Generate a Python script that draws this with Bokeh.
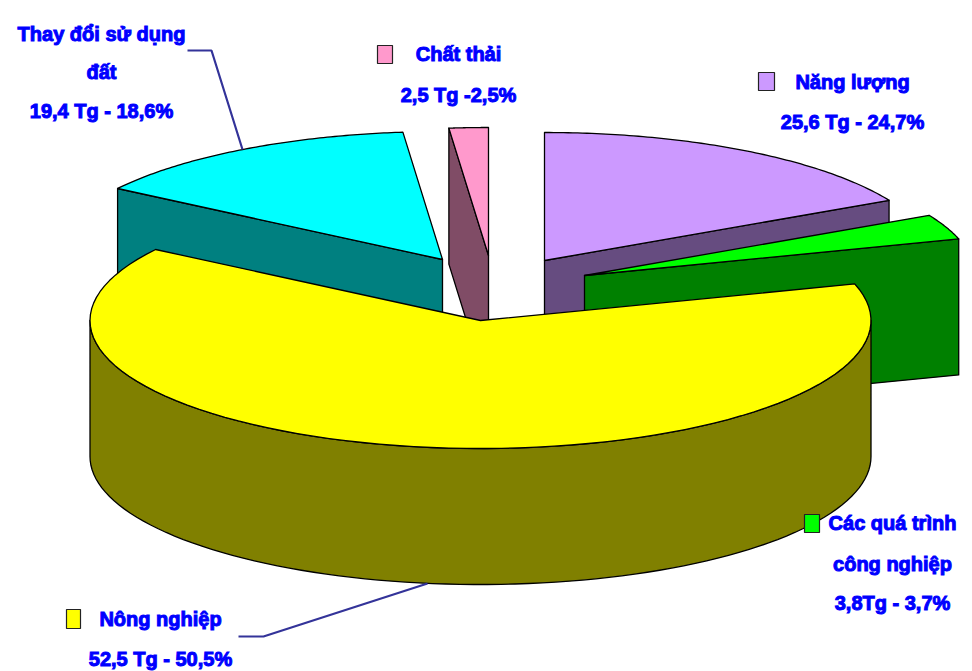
import numpy as np
from bokeh.plotting import figure
from bokeh.models import Range1d
from bokeh.core.properties import value
from bokeh.embed import file_html
from bokeh.resources import INLINE

# ---- data ----
categories = ["Năng lượng", "Các quá trình công nghiệp", "Nông nghiệp", "Thay đổi sử dụng đất", "Chất thải"]
values_tg = [25.6, 3.8, 52.5, 19.4, 2.5]
label_lines = [
    ["Năng lượng", "25,6 Tg - 24,7%"],
    ["Các quá trình", "công nghiệp", "3,8Tg - 3,7%"],
    ["Nông nghiệp", "52,5 Tg - 50,5%"],
    ["Thay đổi sử dụng", "đất", "19,4 Tg - 18,6%"],
    ["Chất thải", "2,5 Tg -2,5%"],
]

# ---- styles and layout (page pixels) ----
top_colors = ["#CC99FF", "#00FF00", "#FFFF00", "#00FFFF", "#FF99CC"]
wall_colors = ["#664C80", "#008000", "#808000", "#008080", "#804C66"]
apex_x = [544, 584, 480, 442, 488]
apex_y = [260, 275, 320, 259, 255]
draw_order = [3, 4, 0, 1, 2]
label_x = [852, 892, 160, 101, 458]
label_y = [[81, 121], [522, 563, 602], [618, 658], [33, 71, 110], [53, 94]]
key_box = {0: (758, 72, 774, 90), 1: (804, 514, 819, 532), 2: (66, 609, 80, 628), 4: (377, 45, 392, 63)}
leaders = [([187, 211, 242], [50, 50, 149]), ([238, 263, 427], [636, 636, 583])]
RX, RY, DEPTH = 390.5, 128.0, 136.0
PERSPECTIVE, SKEW, TILT = 1.65, 6.0, -3.5
W, H = 964, 671
INK = "#0000FF"
FONT = "Liberation Sans"


def screen_angle(theta):
    """Pie angle (deg, clockwise from the back) to angle on the projected ellipse."""
    t = np.radians(theta - 180.0)
    phi = 2 * np.degrees(np.arctan(PERSPECTIVE * np.tan(t / 2))) + 180.0
    r = np.radians(theta)
    return phi - SKEW * (1 - np.cos(r)) / 2 - TILT * np.sin(r)


def rim(i, a, b, n=90):
    ang = np.radians(np.linspace(a, b, n))
    return apex_x[i] + RX * np.sin(ang), apex_y[i] - RY * np.cos(ang)


p = figure(width=W, height=H, output_backend="svg", toolbar_location=None,
           x_range=Range1d(0, W), y_range=Range1d(H, 0),
           min_border=0, outline_line_color=None, background_fill_color="white")
p.axis.visible = False
p.grid.visible = False

edges = np.concatenate([[0.0], np.cumsum(values_tg)]) / sum(values_tg) * 360.0
LINE = dict(line_color="black", line_width=1.3, line_join="round")

for i in draw_order:
    a, b = screen_angle(edges[i]), screen_angle(edges[i + 1])
    if edges[i] == 0:
        a = 0.0
    if edges[i + 1] >= 360:
        b = 360.0
    xr, yr = rim(i, a, b)
    # radial walls that face the viewer
    for ang, end_x, end_y, show in ((a, xr[0], yr[0], np.sin(np.radians(a)) < -1e-6),
                                    (b, xr[-1], yr[-1], np.sin(np.radians(b)) > 1e-6)):
        if show:
            p.patch([apex_x[i], end_x, end_x, apex_x[i]],
                    [apex_y[i], end_y, end_y + DEPTH, apex_y[i] + DEPTH],
                    fill_color=wall_colors[i], **LINE)
    # outer wall on the front half of the rim
    lo, hi = max(a, 90.0), min(b, 270.0)
    if lo < hi:
        xw, yw = rim(i, lo, hi)
        p.patch(np.concatenate([xw, xw[::-1]]), np.concatenate([yw, yw[::-1] + DEPTH]),
                fill_color=wall_colors[i], **LINE)
    # top face
    p.patch(np.concatenate([[apex_x[i]], xr]), np.concatenate([[apex_y[i]], yr]),
            fill_color=top_colors[i], **LINE)

for xs, ys in leaders:
    p.line(xs, ys, line_color="#333399", line_width=2.2)

for i, (x0, y0, x1, y1) in key_box.items():
    p.quad(left=[x0], right=[x1], top=[y0], bottom=[y1], fill_color=top_colors[i],
           line_color="#222222", line_width=1.2)

for i, lines in enumerate(label_lines):
    p.text([label_x[i]] * len(lines), label_y[i], text=lines,
           text_font=value(FONT), text_font_style="bold", text_font_size="20px",
           text_color=INK, text_outline_color=INK, text_align="center", text_baseline="middle")

open("out.html", "w").write(file_html(p, INLINE))
